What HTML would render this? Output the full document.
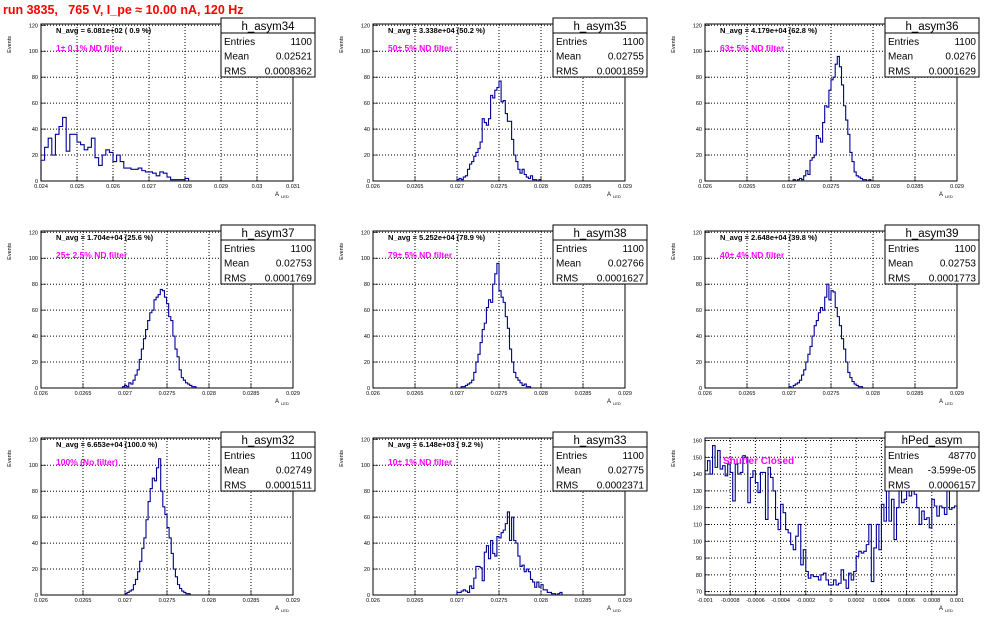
<!DOCTYPE html>
<html><head><meta charset="utf-8"><style>
body{margin:0;background:#fff;}
svg{display:block;font-family:"Liberation Sans",sans-serif;}
</style></head><body>
<svg id="c" width="996" height="622" viewBox="0 0 996 622">
<rect width="996" height="622" fill="#fff"/>
<text x="3" y="14" fill="#f00" font-size="12.5" font-weight="bold" xml:space="preserve">run 3835,   765 V, I_pe ≈ 10.00 nA, 120 Hz</text>
</svg>
<script>
const ns="http://www.w3.org/2000/svg";
const svg=document.getElementById('c');
const counts34=[16,26,33,20,36,42,49,23,36,36,30,28,24,26,33,18,12,20,24,22,15,20,15,10,10,9,9,10,8,7,7,6,4,7,6,3,1,1,1,1,2];
const counts35=[1,2,1,3,4,9,13,15,19,22,25,30,48,45,43,48,66,64,70,72,77,61,62,52,46,46,32,20,15,9,6,9,5,3,2,4,1,1,0,1];
const counts36=[1,0,1,2,1,4,8,5,16,18,20,35,33,30,45,58,57,70,78,80,90,96,88,74,58,47,36,22,15,7,4,3,2,1,1,0,1];
const counts37=[1,2,1,4,3,6,10,14,22,30,38,45,52,58,60,68,70,72,76,75,70,65,55,52,40,30,24,14,8,6,4,3,2,1,1];
const counts38=[1,1,2,3,4,6,12,20,26,35,45,50,62,68,66,80,88,96,75,70,66,55,46,30,20,12,8,6,4,2,3,1,1];
const counts39=[1,0,2,3,4,6,10,14,20,26,32,40,48,52,58,62,60,70,80,68,75,74,62,55,48,38,30,20,12,8,5,3,2,1,1];
const counts32=[1,2,3,4,8,12,18,26,36,44,58,72,82,90,88,98,105,80,68,62,52,44,32,20,14,8,5,3,2,1,1];
const counts33=[2,2,3,4,3,2,7,5,13,22,22,21,11,33,38,28,42,32,30,45,44,48,50,55,64,42,60,42,40,30,22,23,18,20,18,12,10,6,10,6,8,4,4,2,2,1,1,0,1,2];
const countsPed=[142,148,140,157,144,154,143,145,139,146,141,124,146,140,141,151,150,123,138,142,135,129,141,141,113,144,138,130,113,107,122,117,107,105,98,95,103,110,86,95,82,78,80,79,79,77,80,81,77,74,74,77,74,75,83,77,72,81,77,82,91,94,93,94,98,110,76,96,110,95,122,112,141,112,125,101,120,132,123,125,130,127,135,128,120,110,118,113,114,108,125,121,115,121,120,116,140,119,120,121];
const histNames=["h_asym34","h_asym35","h_asym36","h_asym37","h_asym38","h_asym39","h_asym32","h_asym33","hPed_asym"];
const navgLabels=["N_avg = 6.081e+02 ( 0.9 %)","N_avg = 3.338e+04 (50.2 %)","N_avg = 4.179e+04 (62.8 %)","N_avg = 1.704e+04 (25.6 %)","N_avg = 5.252e+04 (78.9 %)","N_avg = 2.648e+04 (39.8 %)","N_avg = 6.653e+04 (100.0 %)","N_avg = 6.148e+03 ( 9.2 %)",""];
const filterLabels=["1± 0.1% ND filter","50± 5% ND filter","63± 5% ND filter","25± 2.5% ND filter","79± 5% ND filter","40± 4% ND filter","100% (No filter)","10± 1% ND filter","Shutter Closed"];
const entriesVals=["1100","1100","1100","1100","1100","1100","1100","1100","48770"];
const meanVals=["0.02521","0.02755","0.0276","0.02753","0.02766","0.02753","0.02749","0.02775","-3.599e-05"];
const rmsVals=["0.0008362","0.0001859","0.0001629","0.0001769","0.0001627","0.0001773","0.0001511","0.0002371","0.0006157"];
const seriesCounts=[counts34,counts35,counts36,counts37,counts38,counts39,counts32,counts33,countsPed];
const binStarts=[0.024,0.02700,0.02705,0.02697,0.02705,0.02700,0.02700,0.02700,-0.001];
const binWidths=[0.0001,0.000025,0.000025,0.000025,0.000025,0.000025,0.000025,0.000025,0.00002];
const xRanges=[[0.024,0.031],[0.026,0.029],[0.026,0.029],[0.026,0.029],[0.026,0.029],[0.026,0.029],[0.026,0.029],[0.026,0.029],[-0.001,0.001]];
const yRanges=[[0,121],[0,121],[0,121],[0,121],[0,121],[0,121],[0,121],[0,121],[68,161.5]];
const xTicks1=["0.024","0.025","0.026","0.027","0.028","0.029","0.03","0.031"];
const xTicksStd=["0.026","0.0265","0.027","0.0275","0.028","0.0285","0.029"];
const xTicksPed=["-0.001","-0.0008","-0.0006","-0.0004","-0.0002","0","0.0002","0.0004","0.0006","0.0008","0.001"];
const yTicksStd=["0","20","40","60","80","100","120"];
const yTicksPed=["70","80","90","100","110","120","130","140","150","160"];

function mk(tag,attrs,parent){const e=document.createElementNS(ns,tag);for(const k in attrs)e.setAttribute(k,attrs[k]);(parent||svg).appendChild(e);return e;}
function txt(s,attrs,parent){const e=mk('text',attrs,parent);e.textContent=s;return e;}

for(let p=0;p<9;p++){
  const col=p%3,row=Math.floor(p/3);
  const ox=col*332,oy=row*207;
  const L=ox+41,R=ox+293,T=oy+24,B=oy+181;
  const g=mk('g',{});
  
  
  const [x0,x1]=xRanges[p],[y0,y1]=yRanges[p];
  const X=v=>L+(v-x0)/(x1-x0)*(R-L);
  const Y=v=>B-(v-y0)/(y1-y0)*(B-T);
  const xt=p===0?xTicks1:(p===8?xTicksPed:xTicksStd);
  const yt=p===8?yTicksPed:yTicksStd;
  // grid
  xt.forEach(s=>{const v=parseFloat(s);const x=X(v);
    if(x>L+1&&x<R-1){const l=mk('line',{x1:x,x2:x,y1:T,y2:B,stroke:'#000','stroke-width':1,'stroke-dasharray':'1,2'},g);
      }
    const t=txt(s,{x:x,y:B+7,'font-size':5.5,'text-anchor':'middle',fill:'#000'},g);
    
    mk('line',{x1:x,x2:x,y1:B,y2:B-5,stroke:'#000','stroke-width':0.7},g);
  });
  yt.forEach(s=>{const v=parseFloat(s);const y=Y(v);
    if(y>T+1&&y<B-1){const l=mk('line',{x1:L,x2:R,y1:y,y2:y,stroke:'#000','stroke-width':1,'stroke-dasharray':'1,2'},g);
      }
    const t=txt(s,{x:L-3,y:y+2,'font-size':5.5,'text-anchor':'end',fill:'#000'},g);
    
    mk('line',{x1:L,x2:L+5,y1:y,y2:y,stroke:'#000','stroke-width':0.7},g);
  });
  // histogram
  const c=seriesCounts[p],bs=binStarts[p],bw=binWidths[p];
  let d='M'+X(bs)+','+Y(y0);
  c.forEach((v,i)=>{const xa=X(bs+i*bw),xb=X(bs+(i+1)*bw);const vv=Math.max(v,y0);d+=' L'+xa+','+Y(vv)+' L'+xb+','+Y(vv);});
  d+=' L'+X(bs+c.length*bw)+','+Y(y0);
  const path=mk('path',{d:d,fill:'none',stroke:'#000099','stroke-width':1.1},g);
  
  
  // frame
  const fr=mk('rect',{x:L,y:T,width:R-L,height:B-T,fill:'none',stroke:'#000','stroke-width':1},g);
  
  // axis titles
  const yt2=txt('Events',{x:0,y:0,'font-size':5.5,transform:'translate('+(ox+11)+','+(T+12)+') rotate(-90)','text-anchor':'end'},g);
  
  const xl=txt('A',{x:R-18,y:B+15,'font-size':6},g);
  
  txt('LED',{x:R-12,y:B+17,'font-size':4},g);
  // labels
  if(navgLabels[p]){const n=txt(navgLabels[p],{x:L+15,y:T+9,'font-size':7.5,'font-weight':'bold'},g);
    }
  const f=txt(filterLabels[p],{x:L+(p===8?18:15),y:T+(p===8?26:27),'font-size':p===8?10:8.5,'font-weight':'bold',fill:'#f0f'},g);
  
  // stats box
  const bx=ox+221,by=oy+18,bwid=94;
  const sb=mk('g',{},g);
  
  mk('rect',{x:bx,y:by,width:bwid,height:59,fill:'#fff',stroke:'#000','stroke-width':1},sb);
  mk('line',{x1:bx,x2:bx+bwid,y1:by+15,y2:by+15,stroke:'#000','stroke-width':1},sb);
  const h=txt(histNames[p],{x:bx+bwid/2,y:by+12,'font-size':11.5,'text-anchor':'middle'},sb);
  
  [['Entries',entriesVals[p]],['Mean',meanVals[p]],['RMS',rmsVals[p]]].forEach((r,i)=>{
    const yy=by+27+i*14.7;
    const a=txt(r[0],{x:bx+3,y:yy,'font-size':10},sb);
    
    const b=txt(r[1],{x:bx+bwid-3,y:yy,'font-size':10,'text-anchor':'end'},sb);
    
  });
}
</script>
</body></html>
